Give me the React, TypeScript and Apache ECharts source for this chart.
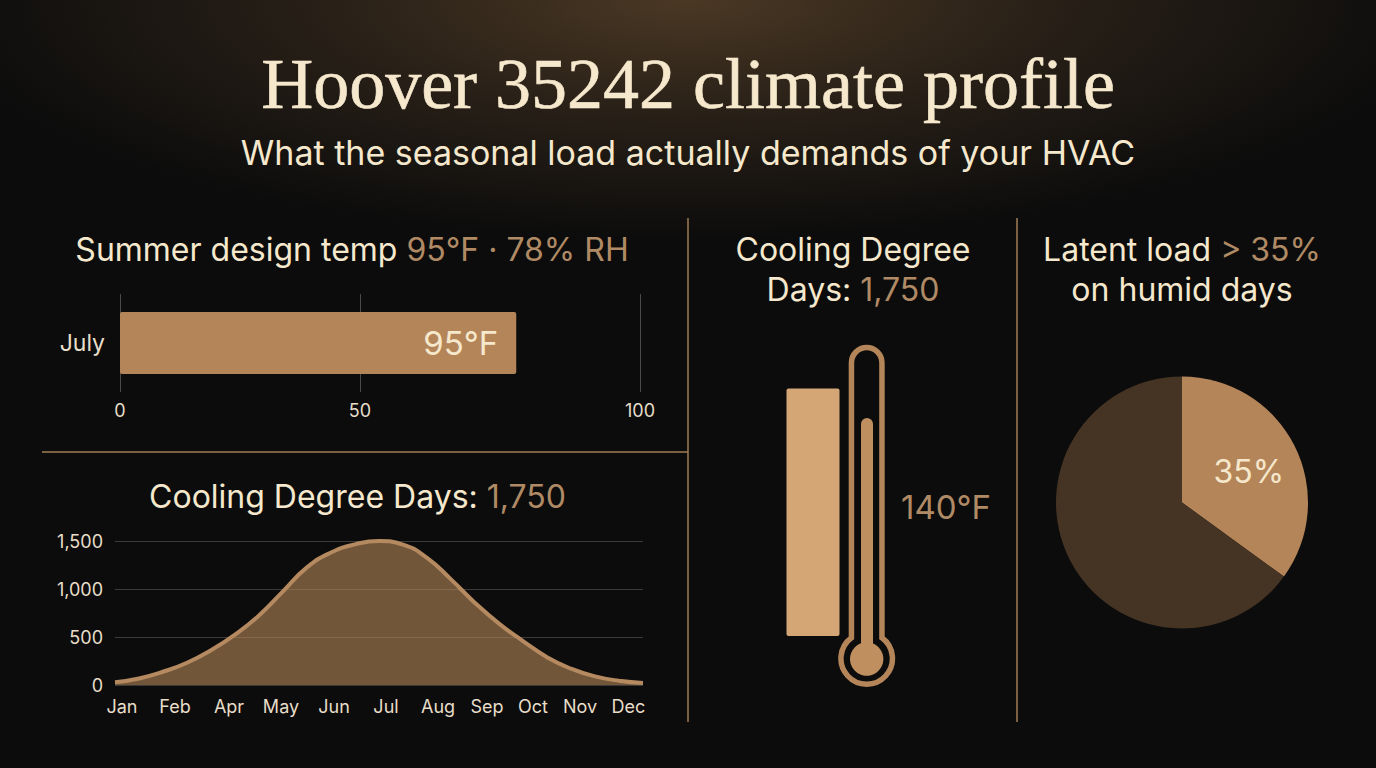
import React, { useEffect, useRef } from "react";
import * as echarts from "echarts";

const PAGE_TITLE = "Hoover 35242 climate profile";
const PAGE_SUBTITLE = "What the seasonal load actually demands of your HVAC";

const barCategories = ["July"];
const barValues = [76.2];
const barValueLabel = "95°F";
const barTickValues = [0, 46.15, 100];
const barTickLabels = ["0", "50", "100"];

const monthLabels = ["Jan", "Feb", "Apr", "May", "Jun", "Jul", "Aug", "Sep", "Oct", "Nov", "Dec"];
const monthTickValues = [0.146, 1.25, 2.375, 3.458, 4.563, 5.646, 6.73, 7.75, 8.708, 9.688, 10.698];
const cddX = [0, 0.5, 1, 1.5, 2, 2.5, 3, 3.5, 4, 4.5, 5, 5.5, 6, 6.5, 7, 7.5, 8, 8.5, 9, 9.5, 10, 10.5, 11];
const cddY = [28, 68, 138, 232, 362, 525, 725, 975, 1225, 1380, 1465, 1500, 1462, 1325, 1100, 855, 640, 458, 290, 170, 90, 44, 21];

const thermoValue = [140];
const pieNames = ["Latent", "Sensible"];
const pieValues = [35, 65];

const BG = "#0c0c0c";
const CREAM = "#f5e8cc";
const LABEL = "#e8dec9";
const ACCENT = "#b08a64";
const BAR = "#b5855a";
const SAND = "#d4a675";
const MERCURY = "#bf8f60";
const DARK_SLICE = "#453423";
const RULE = "#a17c55";
const SANS = "Inter";

const THERMO_D =
  "M851.45,637.75 L851.45,362.75 A15.25,15.25 0 0 1 881.95,362.75 L881.95,637.75 A25.75,25.75 0 1 1 851.45,637.75 Z";

function heading(x: number, y: number, text: string) {
  return {
    type: "text",
    x,
    y,
    style: {
      text,
      align: "center",
      verticalAlign: "middle",
      fontFamily: SANS,
      fontSize: 32,
      fill: CREAM,
      rich: {
        a: { fill: CREAM, fontSize: 32, fontFamily: SANS, lineHeight: 40 },
        b: { fill: ACCENT, fontSize: 32, fontFamily: SANS, lineHeight: 40 },
      },
    },
  };
}

function rule(x1: number, y1: number, x2: number, y2: number) {
  return { type: "line", shape: { x1, y1, x2, y2 }, style: { stroke: RULE, lineWidth: 1.5 } };
}

export default function App() {
  const ref = useRef<HTMLDivElement>(null);
  useEffect(() => {
    document.body.style.margin = "0";
    document.body.style.background = BG;
    try {
      echarts.graphic.registerShape("thermoOutline", echarts.graphic.extendPath(THERMO_D, {}));
    } catch (e) {}
    const chart = echarts.init(ref.current!, null, { renderer: "svg" });
    const option: any = {
      animation: false,
      backgroundColor: "transparent",
      title: [
        {
          text: PAGE_TITLE,
          left: "center",
          top: 43,
          textStyle: {
            fontFamily: "Liberation Serif",
            fontWeight: "normal",
            fontSize: 72,
            color: CREAM,
            textBorderColor: CREAM,
            textBorderWidth: 0.6,
          },
        },
        {
          text: PAGE_SUBTITLE,
          left: "center",
          top: 130,
          textStyle: { fontFamily: SANS, fontWeight: "normal", fontSize: 34, color: CREAM },
        },
      ],
      graphic: [
        rule(688, 218, 688, 722),
        rule(1017, 218, 1017, 722),
        rule(42, 452, 688, 452),
        heading(352, 249, "{a|Summer design temp }{b|95°F · 78% RH}"),
        heading(357.5, 496, "{a|Cooling Degree Days: }{b|1,750}"),
        heading(853, 269, "{a|Cooling Degree}\n{a|Days: }{b|1,750}"),
        heading(1182, 269, "{a|Latent load }{b|> 35%}\n{a|on humid days}"),
        {
          type: "thermoOutline",
          style: { fill: "none", stroke: BAR, lineWidth: 5.5 },
        },
        { type: "circle", shape: { cx: 866.7, cy: 659, r: 16.7 }, style: { fill: MERCURY } },
        {
          type: "text",
          x: 946,
          y: 507,
          style: {
            text: "140°F",
            align: "center",
            verticalAlign: "middle",
            fontFamily: SANS,
            fontSize: 33,
            fill: ACCENT,
          },
        },
      ],
      grid: [
        { left: 120, top: 294, width: 520, height: 98 },
        { left: 115, top: 541, width: 528, height: 144 },
        { left: 786.5, top: 388.5, width: 53, height: 247.5 },
        { left: 861, top: 418, width: 12, height: 242 },
      ],
      xAxis: [
        {
          gridIndex: 0,
          type: "value",
          min: 0,
          max: 100,
          axisLine: { show: false },
          axisTick: { show: false, customValues: barTickValues },
          splitLine: { show: true, lineStyle: { color: "#4a4a4a", width: 1 } },
          axisLabel: {
            customValues: barTickValues,
            margin: 9,
            color: LABEL,
            fontFamily: SANS,
            fontSize: 18,
            formatter: (v: number) => barTickLabels[barTickValues.indexOf(v)] ?? "",
          },
        },
        {
          gridIndex: 1,
          type: "value",
          min: 0,
          max: 11,
          axisLine: { show: false },
          axisTick: { show: false, customValues: monthTickValues },
          splitLine: { show: false },
          axisLabel: {
            customValues: monthTickValues,
            margin: 12,
            color: LABEL,
            fontFamily: SANS,
            fontSize: 18,
            formatter: (v: number) => monthLabels[monthTickValues.indexOf(v)] ?? "",
          },
        },
        { gridIndex: 2, type: "category", data: ["CDD"], show: false },
        { gridIndex: 3, type: "category", data: ["CDD"], show: false },
      ],
      yAxis: [
        {
          gridIndex: 0,
          type: "category",
          data: barCategories,
          axisLine: { show: false },
          axisTick: { show: false },
          axisLabel: { margin: 15, color: LABEL, fontFamily: SANS, fontSize: 23 },
        },
        {
          gridIndex: 1,
          type: "value",
          min: 0,
          max: 1500,
          interval: 500,
          axisLine: { show: false },
          axisTick: { show: false },
          splitLine: { lineStyle: { color: "#3b3a38", width: 1 } },
          axisLabel: {
            margin: 12,
            color: LABEL,
            fontFamily: SANS,
            fontSize: 18,
            formatter: (v: number) => v.toLocaleString("en-US"),
          },
        },
        { gridIndex: 2, type: "value", min: 0, max: 140, show: false },
        { gridIndex: 3, type: "value", min: 0, max: 140, show: false },
      ],
      series: [
        {
          type: "bar",
          name: "Summer design temp",
          xAxisIndex: 0,
          yAxisIndex: 0,
          data: barValues,
          barWidth: 62,
          itemStyle: { color: BAR, borderRadius: 2 },
          label: {
            show: true,
            position: "insideRight",
            distance: 18,
            formatter: barValueLabel,
            color: CREAM,
            fontFamily: SANS,
            fontSize: 33,
          },
        },
        {
          type: "line",
          name: "Cooling Degree Days",
          xAxisIndex: 1,
          yAxisIndex: 1,
          data: cddX.map((x, i) => [x, cddY[i]]),
          smooth: 0.5,
          showSymbol: false,
          symbol: "none",
          lineStyle: { color: "#b58a60", width: 4 },
          areaStyle: { color: "rgba(184,136,90,0.6)", opacity: 1 },
        },
        {
          type: "bar",
          name: "Thermo bar",
          xAxisIndex: 2,
          yAxisIndex: 2,
          data: thermoValue,
          barWidth: 53,
          itemStyle: { color: SAND, borderRadius: 2 },
        },
        {
          type: "bar",
          name: "Thermo mercury",
          xAxisIndex: 3,
          yAxisIndex: 3,
          data: thermoValue,
          barWidth: 12,
          itemStyle: { color: MERCURY, borderRadius: [6, 6, 0, 0] },
        },
        {
          type: "pie",
          name: "Latent load",
          center: [1182, 502.5],
          radius: [0, 126],
          startAngle: 90,
          clockwise: true,
          data: pieNames.map((name, i) => ({
            name,
            value: pieValues[i],
            itemStyle: { color: i === 0 ? BAR : DARK_SLICE },
            label:
              i === 0
                ? { show: true, position: "inside", formatter: "{c}%", color: CREAM, fontFamily: SANS, fontSize: 32 }
                : { show: false },
          })),
          labelLine: { show: false },
          labelLayout: { dx: 8, dy: -1 },
          silent: true,
        },
      ],
    };
    chart.setOption(option);
    return () => chart.dispose();
  }, []);
  return (
    <div
      style={{
        width: 1376,
        height: 768,
        position: "relative",
        background: `radial-gradient(ellipse 760px 240px at 50% 0, #4a3824 0%, #2a2118 45%, ${BG} 100%)`,
      }}
    >
      <div ref={ref} style={{ width: 1376, height: 768 }} />
    </div>
  );
}
